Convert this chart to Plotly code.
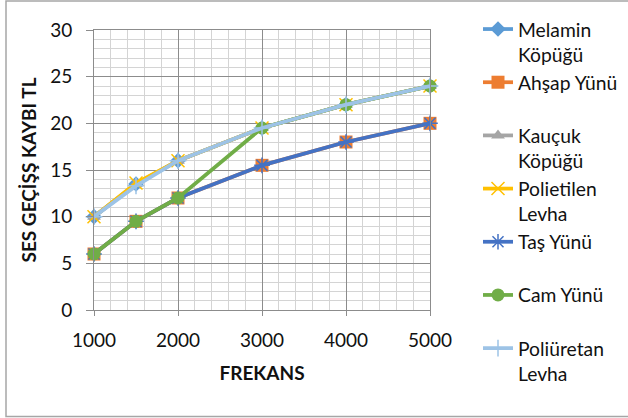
import plotly.graph_objects as go

# Frequencies (Hz) and sound transmission loss per material
frekans = [1000, 1500, 2000, 3000, 4000, 5000]
melamin_kopugu = [10, 13.5, 16, 19.5, 22, 24]
ahsap_yunu = [6, 9.5, 12, 15.5, 18, 20]
kaucuk_kopugu = [10, 13.5, 16, 19.5, 22, 24]
polietilen_levha = [10, 13.6, 16, 19.5, 22, 24]
tas_yunu = [6, 9.5, 12, 15.5, 18, 20]
cam_yunu = [6, 9.5, 12, 19.5, 22, 24]
poliuretan_levha = [10, 13.3, 16, 19.5, 22, 24]

x_ticks = [1000, 2000, 3000, 4000, 5000]
y_ticks = [0, 5, 10, 15, 20, 25, 30]

FONT = "Lato"
MAJOR = "#8c8c8c"
MINOR = "#d4d4d4"

series = [
    ("Melamin<br>Köpüğü", melamin_kopugu, "#5B9BD5",
     dict(symbol="diamond", size=12, color="#5B9BD5")),
    ("Ahşap Yünü<br> ", ahsap_yunu, "#ED7D31",
     dict(symbol="square", size=13, color="#ED7D31")),
    ("Kauçuk<br>Köpüğü", kaucuk_kopugu, "#A5A5A5",
     dict(symbol="triangle-up", size=12, color="#A5A5A5")),
    ("Polietilen<br>Levha", polietilen_levha, "#FFC000",
     dict(symbol="x-thin-open", size=13, color="#FFC000",
          line=dict(color="#FFC000", width=1.5))),
    ("Taş Yünü<br> ", tas_yunu, "#4472C4",
     dict(symbol="asterisk-open", size=13, color="#4472C4",
          line=dict(color="#4472C4", width=1.5))),
    ("Cam Yünü<br> ", cam_yunu, "#70AD47",
     dict(symbol="circle", size=13, color="#70AD47")),
    ("Poliüretan<br>Levha", poliuretan_levha, "#9DC3E6",
     dict(symbol="cross-thin-open", size=12, color="#9DC3E6",
          line=dict(color="#9DC3E6", width=1.5))),
]

fig = go.Figure()
for name, vals, color, marker in series:
    fig.add_trace(go.Scatter(
        x=frekans, y=vals, name=name, mode="lines+markers",
        line=dict(color=color, width=3.75),
        marker=marker, cliponaxis=False,
    ))

fig.update_layout(
    width=628, height=418,
    margin=dict(l=94, r=198, t=30, b=108, autoexpand=False),
    paper_bgcolor="white", plot_bgcolor="white",
    font=dict(family=FONT, size=19, color="#111111"),
    showlegend=True,
    legend=dict(
        x=(478 - 94) / 336, xanchor="left",
        y=(310 - 10) / 280, yanchor="top",
        valign="top", traceorder="normal",
        font=dict(family=FONT, size=19.3, color="#111111"),
        bgcolor="rgba(0,0,0,0)", borderwidth=0,
        itemwidth=30, maxheight=410,
    ),
    xaxis=dict(
        range=[1000, 5000], tickvals=x_ticks,
        ticktext=[str(v) for v in x_ticks],
        showgrid=True, gridcolor=MAJOR, gridwidth=1,
        minor=dict(dtick=200, tick0=1000, showgrid=True,
                   gridcolor=MINOR, gridwidth=1),
        showline=True, linecolor=MAJOR, linewidth=1, mirror=True,
        ticks="outside", ticklen=5, tickcolor=MAJOR,
        ticklabelstandoff=8, zeroline=False, automargin=False,
        title=dict(text="<b>FREKANS</b>", standoff=16,
                   font=dict(family=FONT, size=19, color="#111111")),
    ),
    yaxis=dict(
        range=[0, 30], tickvals=y_ticks,
        showgrid=True, gridcolor=MAJOR, gridwidth=1,
        minor=dict(dtick=1, tick0=0, showgrid=True,
                   gridcolor=MINOR, gridwidth=1),
        showline=True, linecolor=MAJOR, linewidth=1, mirror=True,
        ticks="outside", ticklen=7, tickcolor=MAJOR,
        ticklabelstandoff=10, zeroline=False, automargin=False,
        title=dict(text="<b>SES GEÇİŞŞ KAYBI TL</b>", standoff=8,
                   font=dict(family=FONT, size=19, color="#111111")),
    ),
    shapes=[dict(
        type="rect", xref="paper", yref="paper",
        x0=(6 - 94) / 336, x1=(640 - 94) / 336,
        y0=(310 - 416.5) / 280, y1=(310 - 1) / 280,
        line=dict(color="#a6a6a6", width=1.5), fillcolor="rgba(0,0,0,0)",
        layer="below",
    )],
)

fig.write_html("out.html")
